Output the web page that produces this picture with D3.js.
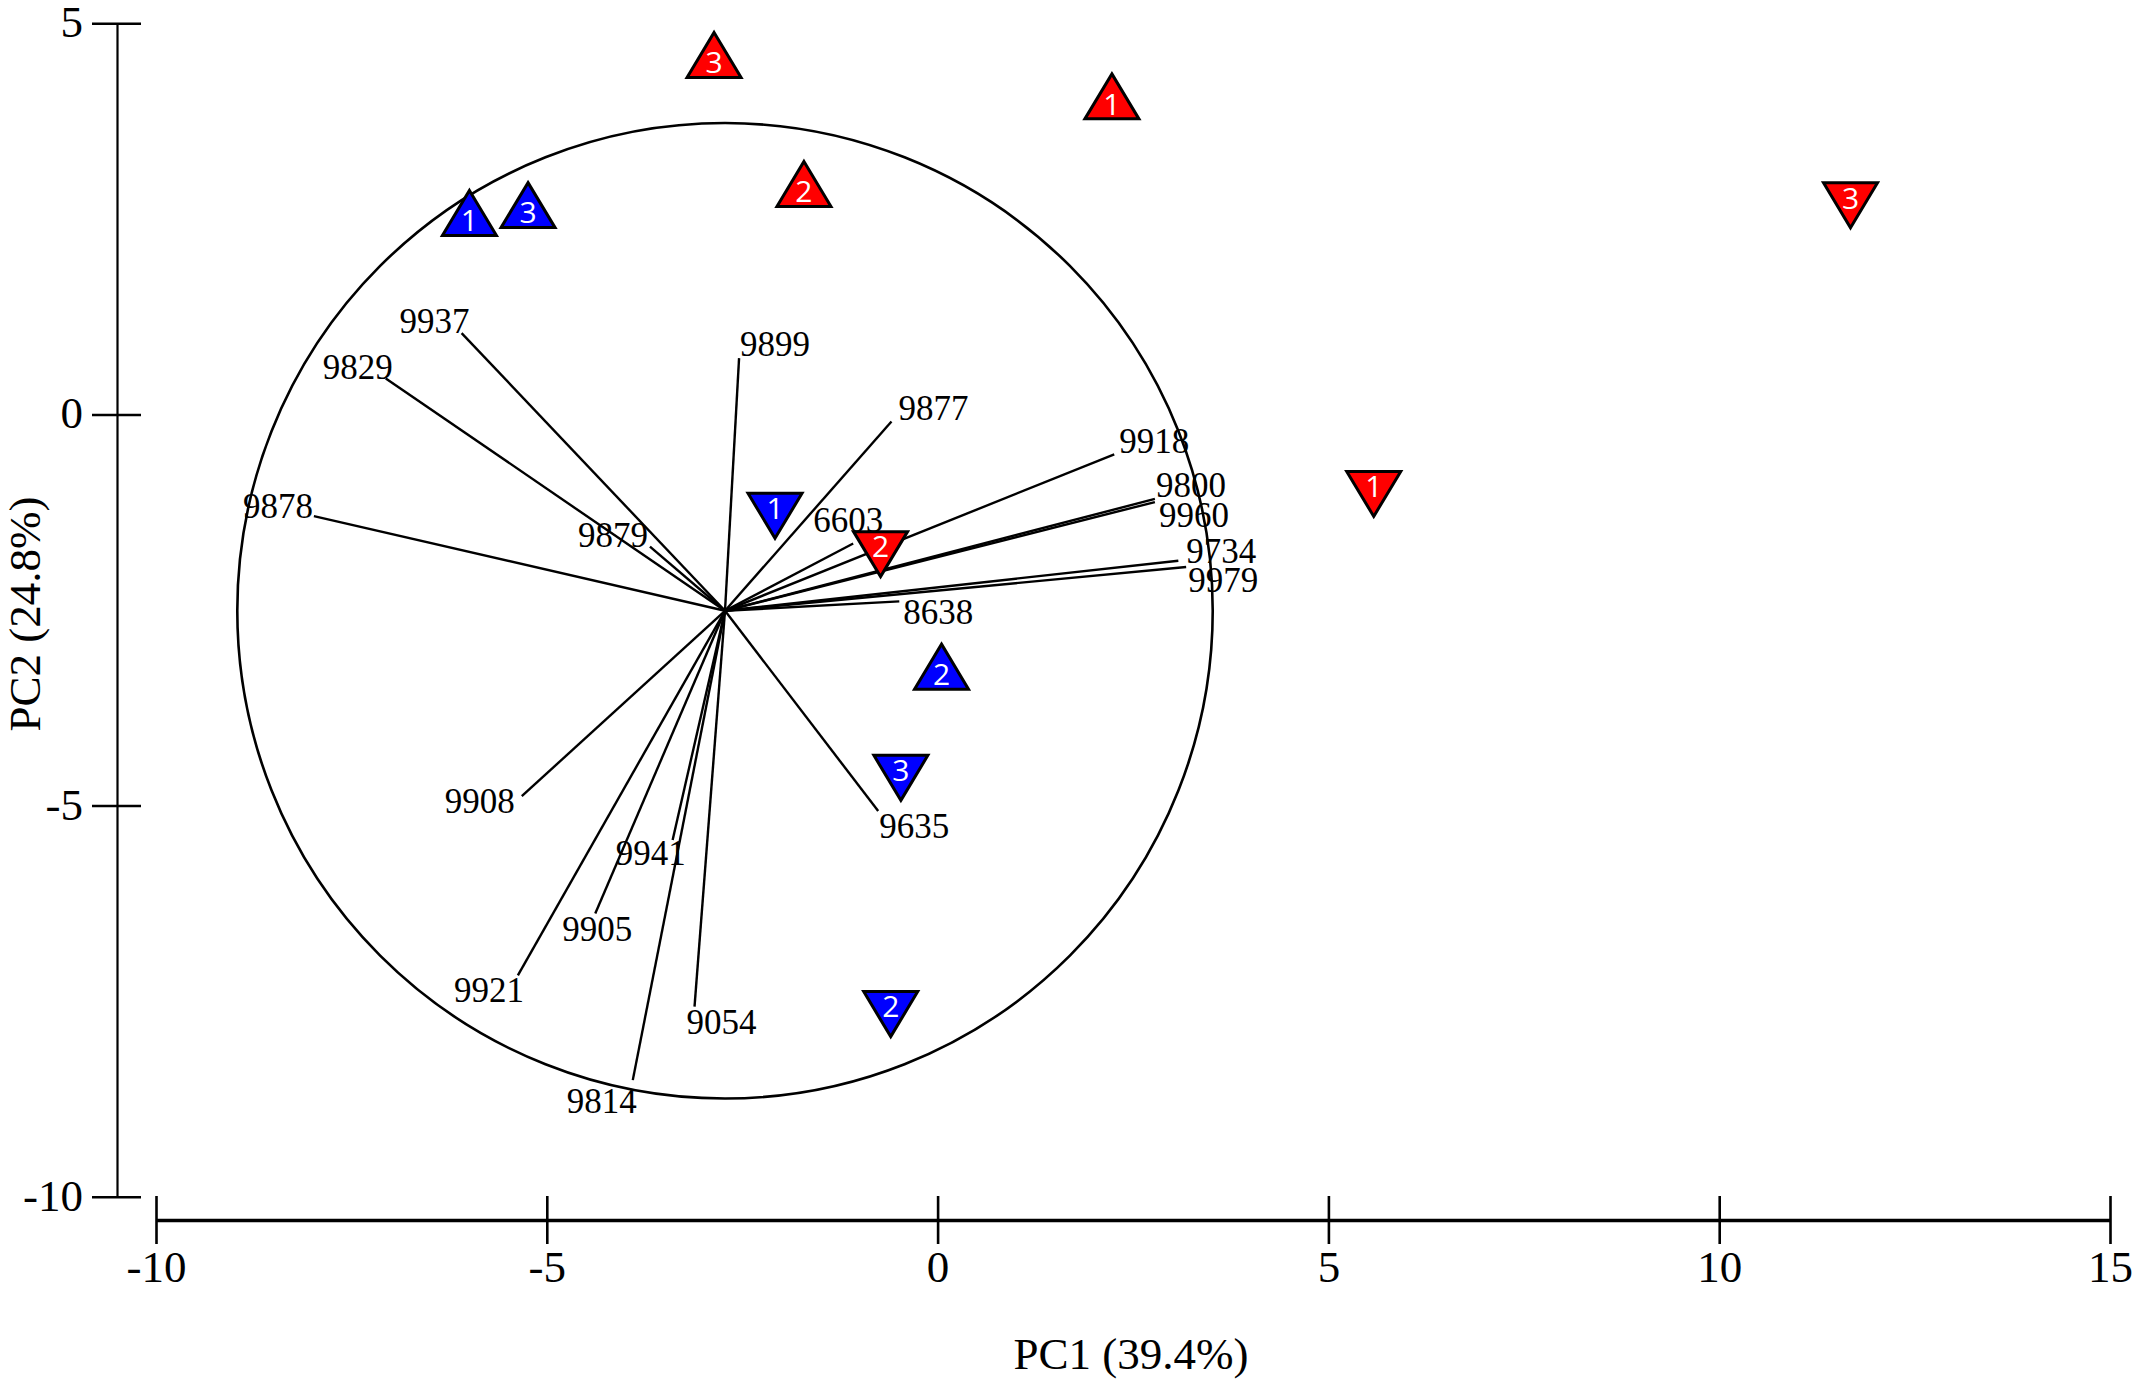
<!DOCTYPE html>
<html>
<head>
<meta charset="utf-8">
<script src="https://cdn.jsdelivr.net/npm/d3@7.9.0/dist/d3.min.js"></script>
<style>
  body { margin: 0; background: #fff; }
  svg { display: block; }
  .serif { font-family: "Liberation Serif", "Times New Roman", serif; }
</style>
</head>
<body>
<svg id="chart" width="2133" height="1387"></svg>
<script>
// axis ticks
const xTicks = [-10, -5, 0, 5, 10, 15];
const yTicks = [5, 0, -5, -10];

// correlation circle (PC units)
const circleCenter = [-2.72, -2.51];
const circleRadius = 6.24;

// loading vectors, end points in PC units
const loadingNames = ["9937", "9829", "9878", "9879", "9899", "9877", "9918", "9800", "9960", "9734",
                      "9979", "6603", "8638", "9908", "9921", "9905", "9941", "9814", "9054", "9635"];
const loadingPC1 = [-6.09, -7.06, -7.98, -3.68, -2.54, -0.59, 2.26, 2.78, 2.78, 3.08,
                    3.18, -1.08, -0.49, -5.32, -5.37, -4.38, -3.39, -3.90, -3.11, -0.76];
const loadingPC2 = [1.04, 0.46, -1.30, -1.69, 0.72, -0.09, -0.51, -1.08, -1.12, -1.87,
                    -1.95, -1.65, -2.39, -4.88, -7.17, -6.38, -5.44, -8.51, -7.57, -5.07];

// samples
const sampleGroup = ["red", "red", "red", "red", "red", "red", "blue", "blue", "blue", "blue", "blue", "blue"];
const sampleShape = ["up", "up", "up", "down", "down", "down", "up", "up", "up", "down", "down", "down"];
const sampleRep   = ["1", "2", "3", "1", "2", "3", "1", "2", "3", "1", "2", "3"];
const samplePC1   = [2.23, -1.71, -2.86, 5.58, -0.73, 11.68, -5.99, 0.05, -5.24, -2.08, -0.60, -0.47];
const samplePC2   = [3.97, 2.85, 4.50, -0.92, -1.69, 2.77, 2.48, -3.32, 2.58, -1.20, -7.57, -4.55];

// label placement next to each vector end: [anchor, dx, dy]
const labelPlace = {
  "9937": ["end", 8, 0], "9829": ["end", 7, 1], "9878": ["end", -1, 2], "9879": ["end", -2, 0],
  "9908": ["end", -7, 17], "9921": ["end", 6, 27], "9941": ["end", 13, 25], "9814": ["end", 4, 33],
  "6603": ["end", 30, -12], "9905": ["middle", 2, 27],
  "9899": ["start", 1, -2], "9877": ["start", 7, -1], "9918": ["start", 5, -1], "9800": ["start", 1, -2],
  "9960": ["start", 4, 25], "9734": ["start", 8, 2], "9979": ["start", 2, 25], "8638": ["start", 4, 23],
  "9054": ["start", -8, 27], "9635": ["start", 1, 27]
};

const colors = { red: "#ff0000", blue: "#0000ff" };

const svg = d3.select("#chart");
svg.append("rect").attr("width", 2133).attr("height", 1387).attr("fill", "#fff");

const x = d3.scaleLinear().domain([-10, 15]).range([156, 2110]);
const y = d3.scaleLinear().domain([-10, 5]).range([1196.7, 23.3]);

/* Y axis */
const yAxis = svg.append("g")
  .attr("class", "serif")
  .attr("transform", "translate(117,0)")
  .call(d3.axisLeft(y).tickValues(yTicks).tickSizeOuter(0).tickSizeInner(25).tickPadding(9).tickFormat(d3.format("d")));
yAxis.select(".domain").attr("stroke", "#000").attr("stroke-width", 2.2);
yAxis.selectAll(".tick line").attr("x1", -25).attr("x2", 24).attr("stroke", "#000").attr("stroke-width", 2.6);
yAxis.selectAll(".tick text")
  .attr("font-size", 45).attr("fill", "#000").attr("dy", "0.3em")
  .text(d => d < 0 ? "-" + Math.abs(d) : d);
yAxis.attr("font-family", null);

/* X axis */
const xAxis = svg.append("g")
  .attr("class", "serif")
  .attr("transform", "translate(0,1220)")
  .call(d3.axisBottom(x).tickValues(xTicks).tickSizeOuter(0).tickSizeInner(24));
xAxis.select(".domain").attr("stroke", "#000").attr("stroke-width", 3.4);
xAxis.selectAll(".tick line").attr("y1", -24).attr("y2", 24).attr("stroke", "#000").attr("stroke-width", 2.6);
xAxis.selectAll(".tick text")
  .attr("font-size", 45).attr("fill", "#000").attr("y", 62).attr("dy", 0)
  .text(d => d < 0 ? "-" + Math.abs(d) : d);
xAxis.attr("font-family", null);

/* axis titles */
svg.append("text").attr("class", "serif")
  .attr("x", 1131).attr("y", 1369)
  .attr("text-anchor", "middle").attr("font-size", 45)
  .text("PC1 (39.4%)");
svg.append("text").attr("class", "serif")
  .attr("transform", "translate(40,614) rotate(-90)")
  .attr("text-anchor", "middle").attr("font-size", 45)
  .text("PC2 (24.8%)");

/* correlation circle */
const cx = x(circleCenter[0]), cy = y(circleCenter[1]);
svg.append("circle")
  .attr("cx", cx).attr("cy", cy)
  .attr("r", x(circleCenter[0] + circleRadius) - cx)
  .attr("fill", "none").attr("stroke", "#000").attr("stroke-width", 2.6);

/* loading vectors */
const loadings = loadingNames.map((name, i) => ({ name, pc1: loadingPC1[i], pc2: loadingPC2[i] }));

svg.append("g").selectAll("line")
  .data(loadings)
  .join("line")
  .attr("x1", cx).attr("y1", cy)
  .attr("x2", d => x(d.pc1)).attr("y2", d => y(d.pc2))
  .attr("stroke", "#000").attr("stroke-width", 2.4);

svg.append("g").attr("class", "serif").selectAll("text")
  .data(loadings)
  .join("text")
  .attr("x", d => x(d.pc1) + labelPlace[d.name][1])
  .attr("y", d => y(d.pc2) + labelPlace[d.name][2])
  .attr("text-anchor", d => labelPlace[d.name][0])
  .attr("font-size", 35)
  .text(d => d.name);

/* samples */
const samples = sampleRep.map((rep, i) => ({
  rep, group: sampleGroup[i], shape: sampleShape[i], pc1: samplePC1[i], pc2: samplePC2[i]
}));

// triangle with centroid at origin, 54 wide, 45 tall
function trianglePath(shape) {
  const p = d3.path();
  const s = shape === "up" ? 1 : -1;
  p.moveTo(0, -30 * s);
  p.lineTo(27, 15 * s);
  p.lineTo(-27, 15 * s);
  p.closePath();
  return p.toString();
}

const marks = svg.append("g").selectAll("g")
  .data(samples)
  .join("g")
  .attr("transform", d => `translate(${x(d.pc1)},${y(d.pc2)})`);

marks.append("path")
  .attr("d", d => trianglePath(d.shape))
  .attr("fill", d => colors[d.group])
  .attr("stroke", "#000").attr("stroke-width", 3)
  .attr("stroke-linejoin", "miter");

marks.append("text")
  .attr("text-anchor", "middle")
  .attr("dy", "0.36em")
  .attr("font-family", "'Open Sans', 'Noto Sans', sans-serif")
  .attr("font-size", 30)
  .attr("fill", "#fff")
  .text(d => d.rep);
</script>
</body>
</html>
